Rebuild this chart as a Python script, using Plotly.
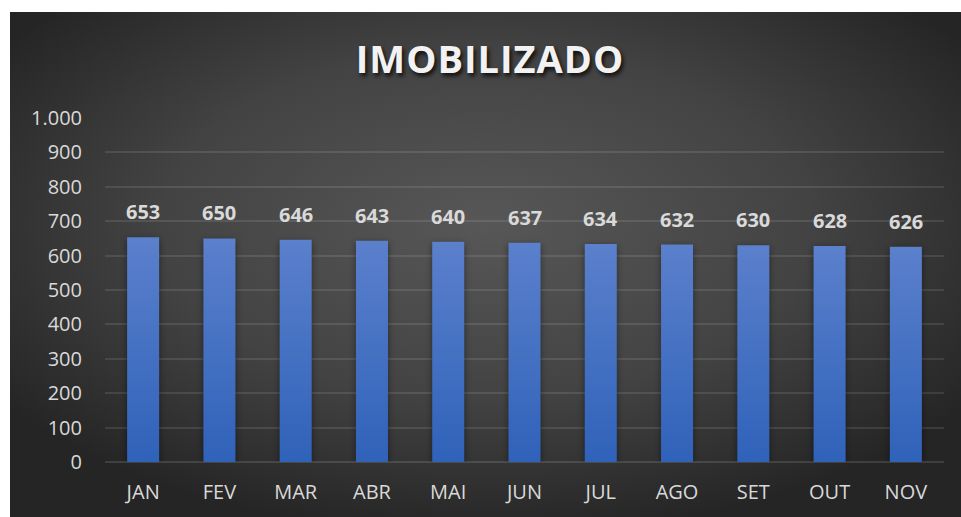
import base64
import plotly.graph_objects as go

categories = ["JAN", "FEV", "MAR", "ABR", "MAI", "JUN", "JUL", "AGO", "SET", "OUT", "NOV"]
values = [653, 650, 646, 643, 640, 637, 634, 632, 630, 628, 626]
y_ticks = [0, 100, 200, 300, 400, 500, 600, 700, 800, 900, 1000]
title_text = "IMOBILIZADO"

W, H = 961, 517
L, R, T, B = 105, 17, 118, 55
pw, ph = W - L - R, H - T - B

BX, BY = 10, 12          # top-left of the dark chart box
BW, BH = W - BX, H - BY  # box runs to the window edges
svg = (
    f'<svg xmlns="http://www.w3.org/2000/svg" width="{BW}" height="{BH}" viewBox="0 0 {BW} {BH}" preserveAspectRatio="none">'
    '<defs><radialGradient id="g" cx="0.5" cy="0.42" r="0.62" gradientUnits="objectBoundingBox">'
    '<stop offset="0" stop-color="#575757"/><stop offset="0.55" stop-color="#434343"/>'
    '<stop offset="1" stop-color="#252525"/></radialGradient></defs>'
    f'<rect width="{BW}" height="{BH}" fill="url(#g)"/></svg>'
)
src = "data:image/svg+xml;base64," + base64.b64encode(svg.encode()).decode()

font_main = "Open Sans, Lato, sans-serif"

fig = go.Figure()
fig.add_trace(go.Bar(
    x=categories, y=values,
    marker=dict(color="#4673c6", line=dict(width=0)),
    hoverinfo="skip",
))

for c, v in zip(categories, values):
    fig.add_annotation(
        x=c, y=v, text=f"{v:,}".replace(",", "."), showarrow=False,
        yanchor="bottom", yshift=10,
        font=dict(family=font_main, size=20, color="#d9d9d9", weight="bold"),
    )

fig.update_layout(
    width=W, height=H,
    margin=dict(l=L, r=R, t=T, b=B),
    paper_bgcolor="white",
    plot_bgcolor="rgba(0,0,0,0)",
    separators=",.",
    bargap=0.58,
    showlegend=False,
    hovermode=False,
    title=dict(
        text=title_text, x=490 / W, xanchor="center", y=1 - 60 / H, yanchor="middle",
        font=dict(family=font_main, size=38, color="#f2f2f2", weight="bold",
                  shadow="2px 3px 4px rgba(0,0,0,0.8)"),
    ),
    images=[dict(
        source=src, xref="paper", yref="paper",
        x=(BX - L) / pw, y=(H - B - BY) / ph,
        sizex=BW / pw, sizey=BH / ph,
        xanchor="left", yanchor="top", sizing="stretch", layer="below",
    )],
    xaxis=dict(
        showgrid=False, zeroline=False, showline=False, ticks="",
        tickfont=dict(family=font_main, size=20, color="#d9d9d9"),
        ticklabelstandoff=16,
    ),
    yaxis=dict(
        range=[0, 1000], tickvals=y_ticks, tickformat=",d",
        showgrid=True, gridcolor="rgba(255,255,255,0.10)", gridwidth=1.5,
        zeroline=True, zerolinecolor="rgba(255,255,255,0.12)", zerolinewidth=1.5,
        showline=False, ticks="",
        tickfont=dict(family=font_main, size=20, color="#d9d9d9"),
        ticklabelstandoff=22,
    ),
)

post_js = """
document.body.style.margin='0';
document.body.style.overflow='hidden';
var gd = document.getElementById('{plot_id}');
var ns = 'http://www.w3.org/2000/svg';
var svgEl = gd.querySelector('svg.main-svg');
var defs = svgEl.querySelector('defs');
var lg = document.createElementNS(ns, 'linearGradient');
lg.setAttribute('id', 'bargrad');
lg.setAttribute('x1', '0'); lg.setAttribute('y1', '0');
lg.setAttribute('x2', '0'); lg.setAttribute('y2', '1');
[['0', '#5b80cc'], ['1', '#2f62b9']].forEach(function (s) {
  var st = document.createElementNS(ns, 'stop');
  st.setAttribute('offset', s[0]); st.setAttribute('stop-color', s[1]);
  lg.appendChild(st);
});
defs.appendChild(lg);
gd.querySelectorAll('.bars .point path').forEach(function (p) {
  p.style.fill = 'url(#bargrad)';
  p.style.filter = 'drop-shadow(0px 2px 3px rgba(0,0,0,0.45))';
});
var t = gd.querySelector('.gtitle');
if (t) { t.style.letterSpacing = '1px'; }
"""

fig.write_html("out.html", config={"displayModeBar": False}, post_script=post_js)
